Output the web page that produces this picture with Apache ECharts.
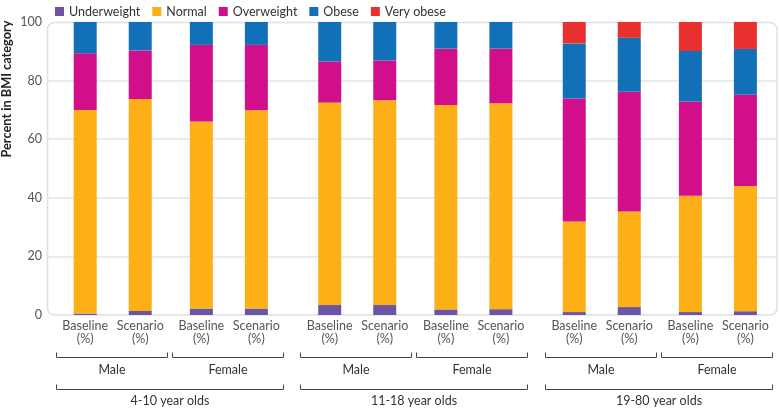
<!DOCTYPE html>
<html>
<head>
<meta charset="utf-8">
<script src="https://cdn.jsdelivr.net/npm/echarts@6/dist/echarts.min.js"></script>
<style>
  html, body { margin: 0; padding: 0; background: #fff; }
  #chart { width: 780px; height: 408px; }
</style>
</head>
<body>
<div id="chart"></div>
<script>
// ---- Data ----
const ageGroups = ['4-10 year olds', '11-18 year olds', '19-80 year olds'];
const sexes = ['Male', 'Female'];
const scenarios = ['Baseline\n(%)', 'Scenario\n(%)'];
const seriesNames = ['Underweight', 'Normal', 'Overweight', 'Obese', 'Very obese'];
// bar order: age group -> sex -> scenario
const underweight = [0.5, 1.4, 2.2, 2.2, 3.4, 3.4, 1.9, 2.0, 1.0, 2.7, 1.0, 1.3];
const normal      = [69.5, 72.3, 63.8, 67.7, 69.1, 69.9, 69.8, 70.3, 30.9, 32.6, 39.7, 42.7];
const overweight  = [19.3, 16.6, 26.2, 22.3, 14.0, 13.6, 19.2, 18.6, 42.0, 40.9, 32.2, 31.2];
const obese       = [10.7, 9.7, 7.8, 7.8, 13.5, 13.1, 9.1, 9.1, 18.8, 18.4, 17.2, 15.6];
const veryObese   = [null, null, null, null, null, null, null, null, 7.3, 5.4, 9.9, 9.2];
const yMin = 0, yMax = 100, yInterval = 20;

// ---- Layout (slot spacing on a fine category axis) ----
const colors = ['#6b54a4', '#fcaf17', '#d10f8b', '#1170b8', '#e8312f'];
const FONT = 'Lato';
const FS = 12.5;
const leadSlots = 12, pairStep = 18, sexStep = 20, ageStep = 24, totalSlots = 239;

const barSlots = [];
let slot = leadSlots;
for (let a = 0; a < ageGroups.length; a++) {
  for (let s = 0; s < sexes.length; s++) {
    for (let c = 0; c < scenarios.length; c++) {
      barSlots.push(slot);
      slot += (c === 0) ? pairStep : (s === 0 ? sexStep : ageStep);
    }
  }
}
const categories = [];
const labelMap = {};
for (let i = 0; i < totalSlots; i++) categories.push('gap' + i);
barSlots.forEach((p, k) => {
  const id = 'bar' + k;
  categories[p] = id;
  labelMap[id] = scenarios[k % 2];
});
function expand(values) {
  const arr = new Array(totalSlots).fill('-');
  barSlots.forEach((p, k) => { arr[p] = values[k] == null ? '-' : values[k]; });
  return arr;
}
const allValues = [underweight, normal, overweight, obese, veryObese];

const chart = echarts.init(document.getElementById('chart'), null, { renderer: 'canvas' });
const option = {
  animation: false,
  textStyle: { fontFamily: FONT },
  legend: {
    data: seriesNames,
    top: 0,
    left: 50,
    icon: 'rect',
    itemWidth: 9,
    itemHeight: 9,
    itemGap: 12,
    textStyle: { color: '#333', fontSize: FS, fontFamily: FONT }
  },
  grid: { left: 47, top: 22, right: 2.5, bottom: 93, containLabel: false },
  xAxis: {
    type: 'category',
    data: categories,
    axisLine: { show: false },
    axisTick: { show: false },
    splitLine: { show: false },
    axisLabel: {
      interval: 0,
      margin: 4,
      color: '#555',
      fontSize: FS,
      lineHeight: 13.5,
      fontFamily: FONT,
      formatter: v => labelMap[v] || ''
    }
  },
  yAxis: {
    type: 'value',
    min: yMin, max: yMax, interval: yInterval,
    axisLine: { show: false },
    axisTick: { show: false },
    axisLabel: { color: '#555', fontSize: FS, margin: 5, fontFamily: FONT },
    splitLine: { show: true, showMinLine: false, showMaxLine: false, lineStyle: { color: '#e2e4ea', width: 1.5 } }
  },
  series: seriesNames.map((name, i) => ({
    name: name,
    type: 'bar',
    stack: 'bmi',
    barWidth: 23,
    itemStyle: { color: colors[i] },
    emphasis: { disabled: true },
    data: expand(allValues[i])
  }))
};
chart.setOption(option);

// ---- Annotations: frame, y title, group brackets ----
const px = i => chart.convertToPixel({ xAxisIndex: 0 }, i);
const graphics = [];
graphics.push({
  type: 'rect', z: -1,
  shape: { x: 47.5, y: 22.5, width: 729.5, height: 292.5, r: 7 },
  style: { fill: null, stroke: '#dde0e6', lineWidth: 1.5 }
});
graphics.push({
  type: 'text',
  x: 7, y: 89, rotation: Math.PI / 2,
  style: {
    text: 'Percent in BMI category', fill: '#222', font: 'bold 12.75px ' + FONT,
    textAlign: 'center', textVerticalAlign: 'middle'
  }
});
const sexY = 357.5, ageY = 389.5, tickH = 5;
function bracket(x0, x1, y) {
  return {
    type: 'polyline',
    shape: { points: [[x0, y - tickH], [x0, y], [x1, y], [x1, y - tickH]] },
    style: { stroke: '#444', lineWidth: 1, fill: null }
  };
}
for (let a = 0; a < ageGroups.length; a++) {
  let ageL = null, ageR = null;
  for (let s = 0; s < sexes.length; s++) {
    const k = a * 4 + s * 2;
    const pc = (px(barSlots[k]) + px(barSlots[k + 1])) / 2;
    const x0 = Math.round(pc - 57) + 0.5, x1 = Math.round(pc + 54) + 0.5;
    if (ageL === null) ageL = x0;
    ageR = x1;
    graphics.push(bracket(x0, x1, sexY));
    graphics.push({
      type: 'text', x: (x0 + x1) / 2, y: 369.5,
      style: { text: sexes[s], fill: '#333', font: FS + 'px ' + FONT, textAlign: 'center', textVerticalAlign: 'middle' }
    });
  }
  graphics.push(bracket(ageL, ageR, ageY));
  graphics.push({
    type: 'text', x: (ageL + ageR) / 2, y: 401,
    style: { text: ageGroups[a], fill: '#333', font: FS + 'px ' + FONT, textAlign: 'center', textVerticalAlign: 'middle' }
  });
}
chart.setOption({ graphic: graphics });
</script>
</body>
</html>
